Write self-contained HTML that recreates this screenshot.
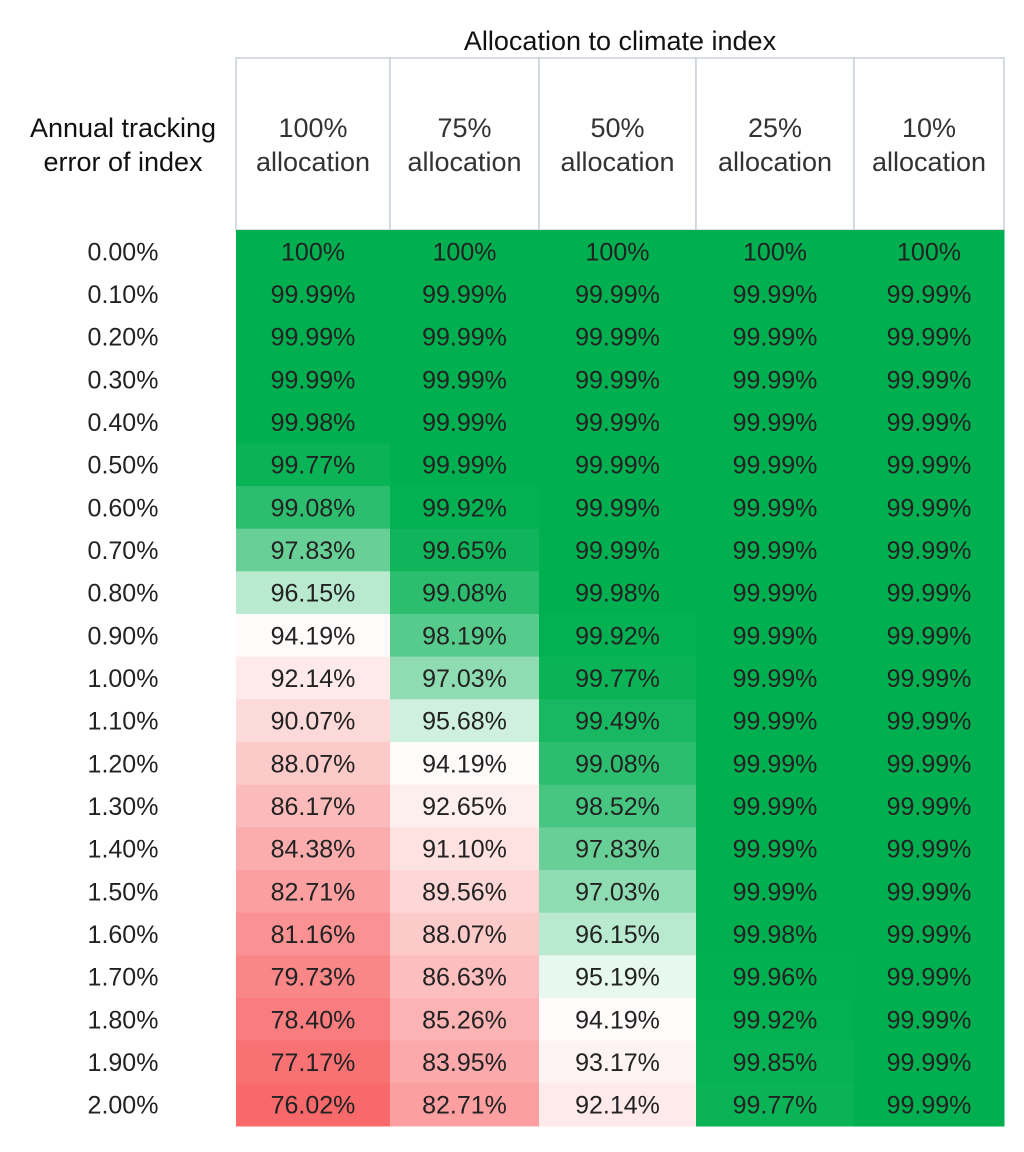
<!DOCTYPE html>
<html><head><meta charset="utf-8"><style>
body{margin:0;background:#fff;width:1024px;height:1147px;overflow:hidden;font-family:"Liberation Sans Narrow","Liberation Sans",sans-serif;color:#222}
svg text{font-family:"Liberation Sans Narrow","Liberation Sans",sans-serif}
</style></head><body>
<svg id="c" width="1024" height="1147"></svg>
<script>
const rowLabels=["0.00%","0.10%","0.20%","0.30%","0.40%","0.50%","0.60%","0.70%","0.80%","0.90%","1.00%","1.10%","1.20%","1.30%","1.40%","1.50%","1.60%","1.70%","1.80%","1.90%","2.00%"];
const colTop=["100%","75%","50%","25%","10%"];
const col100=[100,99.99,99.99,99.99,99.98,99.77,99.08,97.83,96.15,94.19,92.14,90.07,88.07,86.17,84.38,82.71,81.16,79.73,78.40,77.17,76.02];
const col75=[100,99.99,99.99,99.99,99.99,99.99,99.92,99.65,99.08,98.19,97.03,95.68,94.19,92.65,91.10,89.56,88.07,86.63,85.26,83.95,82.71];
const col50=[100,99.99,99.99,99.99,99.99,99.99,99.99,99.99,99.98,99.92,99.77,99.49,99.08,98.52,97.83,97.03,96.15,95.19,94.19,93.17,92.14];
const col25=[100,99.99,99.99,99.99,99.99,99.99,99.99,99.99,99.99,99.99,99.99,99.99,99.99,99.99,99.99,99.99,99.98,99.96,99.92,99.85,99.77];
const col10=[100,99.99,99.99,99.99,99.99,99.99,99.99,99.99,99.99,99.99,99.99,99.99,99.99,99.99,99.99,99.99,99.99,99.99,99.99,99.99,99.99];
const cols=[col100,col75,col50,col25,col10];
const NS="http://www.w3.org/2000/svg",svg=document.getElementById('c');
const xs=[236,390,539,696,854,1004];
const top0=230,rowH=(1126-230)/rowLabels.length;
const all=cols.flat(),vmin=Math.min(...all),vmax=Math.max(...all),vmid=94.7;
function color(v){
 const W=[255,255,255],G=[0,176,80],R=[248,105,107];let t,a;
 if(v>=vmid){t=Math.min(1,(v-vmid)/(vmax-0.01-vmid));a=G}else{t=(vmid-v)/(vmid-vmin);a=R}
 return `rgb(${W.map((w,i)=>Math.round(w+(a[i]-w)*t)).join(',')})`;
}
function mk(tag,at,txt){const e=document.createElementNS(NS,tag);for(const k in at)e.setAttribute(k,at[k]);if(txt!=null)e.textContent=txt;svg.appendChild(e);return e}
const yRow=i=>top0+i*rowH;
let t=mk('text',{x:620,y:50,'text-anchor':'middle','font-size':27,fill:'#111'},'Allocation to climate index');


t=mk('text',{x:123,y:137,'text-anchor':'middle','font-size':27,fill:'#111'},'Annual tracking');


t=mk('text',{x:123,y:171,'text-anchor':'middle','font-size':27,fill:'#111'},'error of index');


colTop.forEach((c,j)=>{
 let r=mk('rect',{x:xs[j],y:58,width:xs[j+1]-xs[j],height:top0-58,fill:'#fff',stroke:'#c8d0d8','stroke-width':1.5});
 
 
 const cx=(xs[j]+xs[j+1])/2;
 let a=mk('text',{x:cx,y:137,'text-anchor':'middle','font-size':27,fill:'#333'},c);
 
 
 let b=mk('text',{x:cx,y:171,'text-anchor':'middle','font-size':27,fill:'#333'},'allocation');
 
 
});
rowLabels.forEach((l,i)=>{
 let e=mk('text',{x:123,y:yRow(i)+rowH/2+9,'text-anchor':'middle','font-size':25,fill:'#222'},l);
 
 
});
cols.forEach((col,j)=>{col.forEach((v,i)=>{
 let r=mk('rect',{x:xs[j],y:yRow(i),width:xs[j+1]-xs[j]+0.5,height:rowH+0.5,fill:color(v)});
 
 
 let s=v===100?'100%':v.toFixed(2)+'%';
 let e=mk('text',{x:(xs[j]+xs[j+1])/2,y:yRow(i)+rowH/2+9,'text-anchor':'middle','font-size':25,fill:'#222'},s);
 
 
})});
</script>
</body></html>
